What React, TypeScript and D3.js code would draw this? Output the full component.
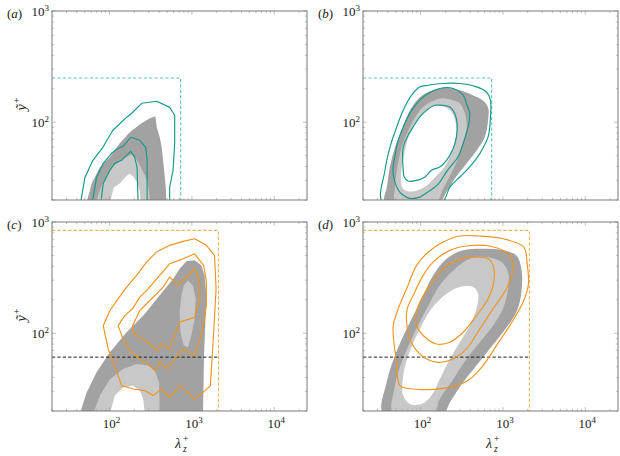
import * as d3 from "d3"

type Pt = [number, number]

// axis ranges (log-log): lambda_z^+ horizontally, y~^+ vertically
const LAMBDA_DOMAIN: [number, number] = [20, 25000]
const Y_DOMAIN: [number, number] = [20, 1000]
const X_LABEL_TICKS = [100, 1000, 10000]
const Y_LABEL_TICKS = [100, 1000]

// dashed reference lines
const TEAL_BOX = { lambda: 730, y: 250 }
const ORANGE_BOX = { lambda: 2100, y: 840 }
const REF_Y = 61

// ---- panel (a)
const A_DARK: Pt[] = [[52.7, 19], [60.6, 28.2], [76.3, 39.3], [101, 48.4], [133, 64.7], [176, 81.3], [244, 98], [308, 108.7], [360, 113], [374, 90.2], [407, 73.3], [430, 59.5], [456, 39.3], [482, 26], [491, 19]]
const A_LIGHT: Pt[] = [[68.3, 19], [78.5, 26], [92.7, 33.3], [112.9, 41], [141, 46.4], [167, 49.4], [186, 51.5], [208, 47.4], [240, 39.3], [268, 33.3], [292, 28.2], [314, 19]]
const A_HOLE: Pt[] = [[101, 19], [112.9, 26], [133, 28.2], [158, 32.6], [176, 34.7], [197, 32], [220, 28.2], [233, 23.9], [240, 19]]
const A_OUTER: Pt[] = [[44.5, 19], [50.2, 31.9], [62.8, 45.5], [83, 59.5], [109.7, 84.7], [162, 111], [186, 120.5], [246, 148], [374, 154.5], [537, 136], [618, 115.6], [618, 64.7], [590, 36.9], [537, 26], [537, 19]]
const A_MID: Pt[] = [[61.6, 19], [69.6, 31.9], [83.7, 42.7], [105.8, 52.6], [127, 58.3], [146, 60.8], [181, 73.3], [233, 68.8], [275, 59.5], [286, 45.5], [286, 19]]
const A_INNER: Pt[] = [[78.5, 19], [83.7, 28.2], [101, 37], [116, 42.7], [140, 45.5], [161, 50.4], [180, 54.8], [202, 48.4], [216, 39.3], [222, 19]]

// ---- panel (b)
const B_DARK: Pt[] = [[37, 19], [39.1, 26.5], [42.5, 40.1], [48.9, 59.5], [58.9, 84.7], [74.3, 128], [98.2, 168], [141, 194], [208, 202], [300, 194], [430, 175], [568, 158], [661, 136], [661, 104], [602, 73.3], [482, 56], [364, 42.7], [268, 32], [208, 23.9], [167, 19]]
const B_LIGHT: Pt[] = [[50.2, 19], [48.9, 26.5], [51.7, 37], [58.9, 59.5], [74.3, 90.2], [98.2, 128], [130, 151], [181, 164.5], [246, 158], [300, 148], [345, 120.5], [364, 90.2], [325, 64.7], [283, 46.4], [233, 34], [186, 24.9], [153, 19]]
const B_HOLE: Pt[] = [[57.8, 29.4], [59.4, 40.1], [66.4, 60.8], [74.3, 79.6], [92.7, 106.4], [116, 128], [149, 139], [186, 139], [233, 126], [268, 98], [268, 75], [240, 54.8], [197, 40.1], [158, 33.3], [119.4, 27], [92.7, 24.5], [72, 23.9], [61, 25.3]]
const B_OUTER: Pt[] = [[34.7, 19], [37, 37], [42.5, 59.5], [51.2, 90.2], [61.6, 128.3], [77.9, 175], [98.2, 208], [123.8, 215], [188, 223], [300, 223], [478, 208], [631, 187], [706, 158], [706, 111.6], [661, 73.8], [524, 52.2], [396, 39.6], [300, 32.2], [227, 26.1], [180, 19]]
const B_MID: Pt[] = [[46.2, 36.2], [48.9, 49.4], [53.1, 67.5], [61.6, 90.8], [77.9, 128], [98.2, 158], [123.8, 181], [171, 201], [249, 201], [329, 175], [361, 147], [396, 119.5], [378, 90.8], [329, 64.3], [283, 48.4], [208, 36.2], [167, 28.2], [126, 23.9], [95.4, 21.1], [74.2, 20.7], [61, 22.2], [53.1, 24.9]]
const B_INNER: Pt[] = [[61.6, 37], [61.6, 59.9], [70.8, 76.4], [81.4, 90.8], [98.2, 111.6], [118.3, 128], [149, 142], [180, 142], [227, 137], [261, 119.5], [278, 97.3], [273, 73.8], [249, 58], [207, 45.5], [171, 39.6], [136, 37], [113, 32.2], [89.5, 30], [70.8, 29.6], [63.3, 32.2]]

// ---- panel (c)
const C_DARK: Pt[] = [[43.7, 19], [52.7, 29.4], [69.6, 44.5], [101, 67.5], [161, 102], [256, 144], [407, 219], [590, 308], [710, 380], [859, 443], [1083, 452], [1305, 407], [1425, 331], [1500, 219], [1459, 126], [1403, 63], [1365, 19]]
const C_LIGHT_LOW: Pt[] = [[63.3, 19], [76.3, 27.5], [101, 38.6], [146, 47.7], [213, 53], [294, 51.2], [354, 46.1], [400, 36.2], [407, 19]]
const C_LIGHT_HIGH: Pt[] = [[898, 298], [1032, 269], [1113, 204], [1079, 134.5], [987, 95.4], [898, 75], [796, 77.5], [726, 102], [710, 155], [747, 219], [796, 269]]
const C_HOLE: Pt[] = [[101, 19], [116, 27.5], [146, 32.6], [193, 33.8], [233, 30.5], [256, 25.6], [268, 19]]
const C_OUTER: Pt[] = [[83.7, 117], [101, 160], [127, 204], [161, 260], [213, 331], [281, 436], [372, 537], [537, 617], [781, 670], [1079, 707], [1500, 617], [1883, 501], [1967, 251], [1839, 102], [1677, 33.8], [1365, 29.4], [1079, 25.6], [898, 29.4], [710, 33.8], [537, 26.5], [427, 31.5], [338, 27.5], [268, 30.5], [193, 31.5], [140, 33.8], [116, 51.2], [96.2, 72.3]]
const C_MID: Pt[] = [[127, 117], [153, 144], [190, 166], [233, 211], [294, 251], [389, 320], [537, 421], [747, 461], [1079, 518], [1391, 407], [1500, 288], [1500, 178], [1365, 109], [1079, 63], [781, 72.3], [618, 58.7], [514, 47.7], [407, 54.8], [354, 46.1], [294, 53], [233, 58.7], [176, 69.8], [146, 88.9]]
const C_INNER: Pt[] = [[190, 117], [233, 160], [294, 190], [372, 226], [447, 260], [537, 320], [679, 269], [781, 298], [1079, 380], [1240, 298], [1240, 204], [1079, 139], [710, 126], [618, 95.4], [537, 72.3], [427, 80.1], [372, 69.8], [308, 80.1], [233, 92], [193, 102]]

// ---- panel (d)
const D_DARK: Pt[] = [[35.2, 19], [38.8, 36.2], [48.9, 63], [67.7, 109], [98.2, 190], [142, 331], [207, 467], [329, 556], [574, 575], [1002, 556], [1459, 501], [1677, 380], [1677, 234], [1459, 155], [1002, 102], [690, 72.3], [478, 51.2], [329, 36.2], [227, 23.9], [188, 19]]
const D_LIGHT: Pt[] = [[46.6, 19], [48.9, 33.8], [58.9, 54.8], [81.4, 95.4], [118.3, 166], [171, 269], [249, 367], [396, 467], [631, 484], [960, 436], [1154, 355], [1154, 251], [1002, 166], [759, 117], [524, 83], [361, 58.7], [249, 38.6], [171, 25.6], [142, 19]]
const D_HOLE: Pt[] = [[61.6, 27.5], [61.6, 41.6], [70.8, 63], [93.6, 102], [136, 166], [207, 226], [300, 260], [435, 260], [500, 226], [478, 166], [396, 117], [300, 83], [227, 58.7], [171, 38.6], [136, 27.5], [103, 23.1], [74.3, 23.1]]
const D_OUTER: Pt[] = [[46.6, 117], [47.5, 83], [51.2, 54.8], [56.2, 33.8], [81.4, 31.5], [156, 31.5], [273, 33.8], [396, 38.6], [574, 51.2], [835, 77.5], [1210, 117], [1754, 190], [2033, 269], [1961, 436], [1789, 596], [1002, 707], [524, 748], [300, 748], [188, 660], [124, 537], [89.5, 407], [67.7, 251], [53.6, 166]]
const D_MID: Pt[] = [[67.7, 126], [74.3, 88.9], [89.5, 69.8], [118.3, 58.7], [163.5, 54.8], [249, 58.7], [361, 72.3], [524, 109], [759, 166], [1104, 251], [1327, 380], [1210, 501], [690, 608], [361, 608], [227, 556], [142, 436], [107.6, 331], [81.4, 219], [68.9, 166]]
const D_INNER: Pt[] = [[89.5, 117], [107.6, 95.4], [156, 80.1], [227, 83], [329, 102], [478, 144], [661, 204], [774, 288], [759, 407], [661, 467], [435, 484], [273, 452], [188, 380], [130, 269], [98.2, 190], [87.7, 144]]

const DARK = "#a2a2a2"
const LIGHT = "#c8c8c8"
const TEAL = "#12998a"
const TEAL_DASH = "#5cc4b7"
const ORANGE = "#ef9420"
const ORANGE_DASH = "#f5b256"
const FONT = "'Liberation Serif', 'DejaVu Serif', serif"

const PW = 255
const PH = 189

if (typeof document !== "undefined") document.body.style.margin = "0"

interface PanelProps {
  left: number
  top: number
  tag: string
  dark: Pt[]
  lights: Pt[][]
  holes: Pt[][]
  lines: Pt[][]
  color: string
  dashColor: string
  box: { lambda: number; y: number }
  refY?: number
  xLabels: boolean
  yTitle: boolean
  smooth: boolean
}

function Panel({ left, top, tag, dark, lights, holes, lines, color, dashColor, box, refY, xLabels, yTitle, smooth }: PanelProps) {
  const x = d3.scaleLog().domain(LAMBDA_DOMAIN).range([0, PW])
  const y = d3.scaleLog().domain(Y_DOMAIN).range([PH, 0])
  const shape = d3
    .line<Pt>()
    .x((d) => x(d[0]))
    .y((d) => y(d[1]))
    .curve(smooth ? d3.curveCatmullRomClosed.alpha(0.5) : d3.curveLinearClosed)
  const isMajor = (v: number) => Math.abs(Math.log10(v) - Math.round(Math.log10(v))) < 1e-6
  const xt = x.ticks()
  const yt = y.ticks()
  const clipId = `clip-${tag}`

  return (
    <g transform={`translate(${left},${top})`}>
      <clipPath id={clipId}>
        <rect x={0} y={0} width={PW} height={PH} />
      </clipPath>
      <g clipPath={`url(#${clipId})`}>
        <path d={shape(dark) ?? undefined} fill={DARK} />
        {lights.map((p, i) => (
          <path key={`l${i}`} d={shape(p) ?? undefined} fill={LIGHT} />
        ))}
        {holes.map((p, i) => (
          <path key={`h${i}`} d={shape(p) ?? undefined} fill="#fff" />
        ))}
        {refY != null && (
          <line x1={0} x2={x(box.lambda)} y1={y(refY)} y2={y(refY)} stroke="#1a1a1a" strokeWidth={1} strokeDasharray="3.2,2.2" />
        )}
        <path
          d={`M0,${y(box.y)}H${x(box.lambda)}V${PH}`}
          fill="none"
          stroke={dashColor}
          strokeWidth={1.1}
          strokeDasharray="3.2,2.2"
        />
        {lines.map((p, i) => (
          <path key={`c${i}`} d={shape(p) ?? undefined} fill="none" stroke={color} strokeWidth={1.15} strokeLinejoin="round" />
        ))}
      </g>

      {/* ticks on all four sides, pointing inward */}
      <g stroke="#9a9a9a" strokeWidth={0.6}>
        {xt.map((v, i) => {
          const len = isMajor(v) ? 4 : 2.2
          const px = x(v)
          return (
            <g key={`xt${i}`}>
              <line x1={px} x2={px} y1={PH} y2={PH - len} />
              <line x1={px} x2={px} y1={0} y2={len} />
            </g>
          )
        })}
        {yt.map((v, i) => {
          const len = isMajor(v) ? 4 : 2.2
          const py = y(v)
          return (
            <g key={`yt${i}`}>
              <line x1={0} x2={len} y1={py} y2={py} />
              <line x1={PW} x2={PW - len} y1={py} y2={py} />
            </g>
          )
        })}
      </g>
      <rect x={0} y={0} width={PW} height={PH} fill="none" stroke="#7a7a7a" strokeWidth={1} />

      <g fontFamily={FONT} fill="#1a1a1a">
        {Y_LABEL_TICKS.map((v) => (
          <text key={`yl${v}`} x={-3} y={y(v) + 5} fontSize={13} textAnchor="end">
            10<tspan dy={-5.5} fontSize={9}>{Math.round(Math.log10(v))}</tspan>
          </text>
        ))}
        <text x={-45} y={7} fontSize={13}>
          (<tspan fontStyle="italic">{tag}</tspan>)
        </text>
        {xLabels &&
          X_LABEL_TICKS.map((v) => (
            <text key={`xl${v}`} x={x(v) + 2} y={PH + 17} fontSize={13} textAnchor="middle">
              10<tspan dy={-5.5} fontSize={9}>{Math.round(Math.log10(v))}</tspan>
            </text>
          ))}
        {xLabels && (
          <g transform={`translate(${PW / 2},${PH + 37})`}>
            <text x={-4.5} y={0} fontSize={14} fontStyle="italic">λ</text>
            <text x={3.5} y={3.5} fontSize={9.5} fontStyle="italic">z</text>
            <text x={3.5} y={-6} fontSize={9.5}>+</text>
          </g>
        )}
        {yTitle && (
          <g transform={`translate(-26,${PH / 2}) rotate(-90)`}>
            <text x={-5} y={0} fontSize={14} fontStyle="italic">ỹ</text>
            <text x={2.5} y={-6} fontSize={9.5}>+</text>
          </g>
        )}
      </g>
    </g>
  )
}

export default function App() {
  return (
    <svg width={620} height={456} viewBox="0 0 620 456" style={{ display: "block", background: "#fff" }}>
      <Panel left={52} top={11} tag="a" dark={A_DARK} lights={[A_LIGHT]} holes={[A_HOLE]} lines={[A_OUTER, A_MID, A_INNER]} color={TEAL} dashColor={TEAL_DASH} box={TEAL_BOX} xLabels={false} yTitle smooth={false} />
      <Panel left={363} top={11} tag="b" dark={B_DARK} lights={[B_LIGHT]} holes={[B_HOLE]} lines={[B_OUTER, B_MID, B_INNER]} color={TEAL} dashColor={TEAL_DASH} box={TEAL_BOX} xLabels={false} yTitle={false} smooth />
      <Panel left={52} top={222} tag="c" dark={C_DARK} lights={[C_LIGHT_LOW, C_LIGHT_HIGH]} holes={[C_HOLE]} lines={[C_OUTER, C_MID, C_INNER]} color={ORANGE} dashColor={ORANGE_DASH} box={ORANGE_BOX} refY={REF_Y} xLabels yTitle smooth={false} />
      <Panel left={363} top={222} tag="d" dark={D_DARK} lights={[D_LIGHT]} holes={[D_HOLE]} lines={[D_OUTER, D_MID, D_INNER]} color={ORANGE} dashColor={ORANGE_DASH} box={ORANGE_BOX} refY={REF_Y} xLabels yTitle={false} smooth />
    </svg>
  )
}
